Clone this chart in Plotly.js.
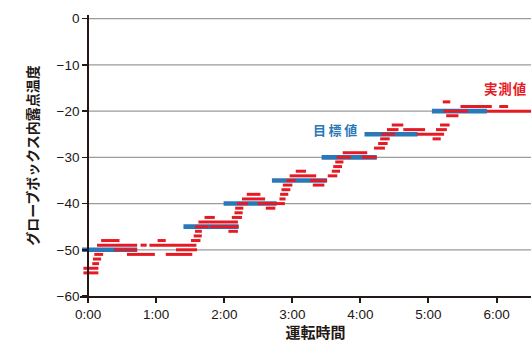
<!DOCTYPE html>
<html>
<head>
<meta charset="utf-8">
<script src="https://cdn.plot.ly/plotly-3.0.1.min.js"></script>
<style>
html,body{margin:0;padding:0;overflow:hidden;background:#fff}
#chart{width:551px;height:342px}
</style>
</head>
<body>
<div id="chart"></div>
<script>
// x values are operating time in hours, y values are dew point in °C
const hourTicks = [0, 1, 2, 3, 4, 5, 6];
const hourLabels = ['0:00', '1:00', '2:00', '3:00', '4:00', '5:00', '6:00'];
const tempTicks = [0, -10, -20, -30, -40, -50, -60];

// target value (目標値) bars
const targetStart = [-0.09, 1.40, 1.99, 2.70, 3.43, 4.06, 5.05];
const targetEnd   = [ 0.72, 2.21, 2.77, 3.51, 4.24, 4.84, 5.86];
const targetTemp  = [-50, -45, -40, -35, -30, -25, -20];

// measured value (実測値) dashes
const measStart = [-0.07, -0.07, 0.06, 0.07, 0.09, 0.13, 0.19, 0.38, 0.77, 0.90,
                   1.02, 0.57, 1.14, 1.29, 1.51, 1.55, 1.57, 1.57, 1.79, 1.62,
                   1.71, 2.11, 2.06, 2.15, 2.16, 2.19, 2.26, 2.33, 2.49, 2.61,
                   2.81, 2.82, 2.84, 2.86, 2.91, 2.96, 3.05, 3.26, 3.30, 3.52,
                   3.58, 3.60, 3.63, 3.65, 4.02, 3.74, 4.20, 4.26, 4.29, 4.31,
                   4.39, 4.63, 4.46, 4.83, 5.06, 5.11, 5.17, 5.26, 5.21, 5.22,
                   5.47, 6.04, 5.86];
const measEnd   = [0.15, 0.15, 0.16, 0.19, 0.22, 0.72, 0.46, 0.72, 0.86, 1.59,
                   1.14, 0.98, 1.53, 1.60, 1.65, 1.67, 1.67, 1.77, 2.21, 2.20,
                   1.86, 2.26, 2.20, 2.27, 2.28, 2.35, 2.60, 2.53, 2.89, 2.75,
                   2.90, 2.94, 2.97, 3.00, 3.05, 3.35, 3.20, 3.51, 3.47, 3.66,
                   3.70, 3.73, 3.75, 3.86, 4.24, 4.10, 4.36, 4.40, 4.43, 4.51,
                   4.56, 4.95, 4.63, 5.23, 5.18, 5.27, 5.31, 5.44, 5.32, 5.58,
                   5.93, 6.17, 6.80];
const measTemp  = [-55, -54, -53, -52, -51, -49, -48, -50, -49, -49,
                   -48, -51, -51, -50, -48, -47, -46, -45, -45, -44,
                   -43, -43, -46, -42, -41, -40, -39, -38, -40, -41,
                   -39, -38, -37, -36, -35, -34, -33, -35, -36, -34,
                   -33, -32, -31, -30, -30, -29, -28, -27, -26, -25,
                   -24, -24, -23, -25, -26, -24, -23, -21, -18, -20,
                   -19, -19, -20];

const xRange = [-0.12, 6.8];
const yRange = [-60, 0.8];

const RED = '#e61a24';
const BLUE = '#2a78b8';
const INK = '#231815';

function segs(s, e, v) {
  const x = [], y = [];
  for (let i = 0; i < s.length; i++) {
    x.push(s[i], e[i], null);
    y.push(v[i], v[i], null);
  }
  return {x, y};
}

const t = segs(targetStart, targetEnd, targetTemp);
const m = segs(measStart, measEnd, measTemp);

const traces = [
  {type: 'scatter', mode: 'lines', name: '目標値', x: t.x, y: t.y,
   line: {color: BLUE, width: 4.6}, connectgaps: false, hoverinfo: 'skip'},
  {type: 'scatter', mode: 'lines', name: '実測値', x: m.x, y: m.y,
   line: {color: RED, width: 3}, connectgaps: false, hoverinfo: 'skip'}
];

const gridShapes = tempTicks.filter(v => v > -60).map(v => ({
  type: 'line', xref: 'x', yref: 'y', x0: 0, x1: xRange[1], y0: v, y1: v,
  line: {color: '#9b9b9b', width: 1.2}, layer: 'below'
}));

const tickFont = {family: 'Liberation Sans, Arial, sans-serif', size: 13.5, color: INK};
const jpFont = 'Noto Sans CJK JP, sans-serif';

const layout = {
  width: 551, height: 342,
  margin: {l: 80, r: 0, t: 15, b: 46, pad: 0},
  paper_bgcolor: '#fff', plot_bgcolor: '#fff',
  showlegend: false,
  xaxis: {
    range: xRange, tickvals: hourTicks, ticktext: hourLabels,
    showgrid: false, zeroline: false,
    showline: true, linecolor: INK, linewidth: 2,
    ticks: 'outside', ticklen: 5, tickwidth: 2, tickcolor: INK,
    tickfont: tickFont,
    title: {text: '運転時間', font: {family: jpFont, size: 15, color: INK, weight: 'bold'}, standoff: 4}
  },
  yaxis: {
    range: yRange, tickvals: tempTicks,
    anchor: 'free', position: (0 - xRange[0]) / (xRange[1] - xRange[0]),
    showgrid: false, zeroline: false,
    showline: true, linecolor: INK, linewidth: 2,
    ticks: 'outside', ticklen: 5, tickwidth: 1.5, tickcolor: INK,
    tickfont: tickFont,
    title: {text: 'グローブボックス内露点温度', font: {family: jpFont, size: 14, color: INK, weight: 'bold'}, standoff: 14}
  },
  shapes: gridShapes,
  annotations: [
    {xref: 'x', yref: 'y', x: 3.62, y: -24.0, text: '目\u2009標\u2009値', showarrow: false,
     xanchor: 'center', yanchor: 'middle',
     font: {family: jpFont, size: 13, color: BLUE, weight: 'bold'}},
    {xref: 'x', yref: 'y', x: 5.79, y: -15.0, text: '実\u200a測\u200a値', showarrow: false,
     xanchor: 'left', yanchor: 'middle',
     font: {family: jpFont, size: 13.5, color: RED, weight: 'bold'}}
  ]
};

Plotly.newPlot('chart', traces, layout, {staticPlot: true, displayModeBar: false});
</script>
</body>
</html>
